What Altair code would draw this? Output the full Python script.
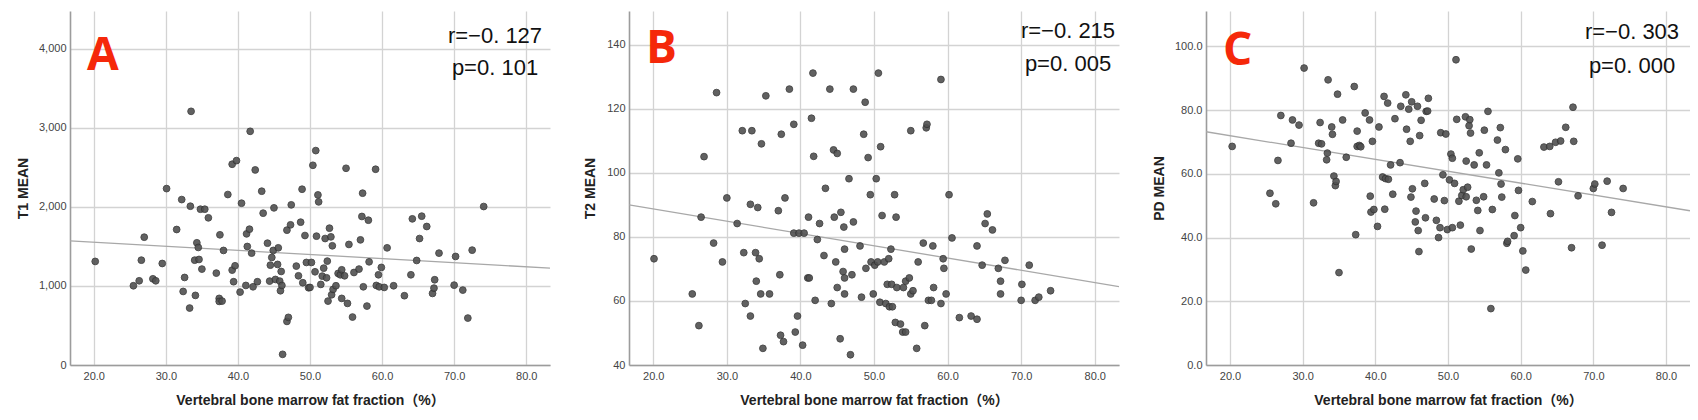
import altair as alt
import pandas as pd

# ---------------- data ----------------
A_X = [20.2,25.5,26.3,26.6,27.0,28.2,28.6,29.5,30.1,31.5,32.2,32.4,32.6,33.3,33.4,33.5,34.0,34.1,34.3,34.5,
       34.6,34.8,35.0,35.4,35.9,37.0,37.4,37.4,37.5,37.8,38.0,38.6,39.2,39.2,39.4,39.6,39.8,40.3,40.5,41.1,
       41.2,41.3,41.6,41.7,41.9,42.1,42.4,42.7,43.3,43.5,44.1,44.4,44.5,44.7,44.9,45.0,45.2,45.5,45.6,45.8,
       45.9,46.0,46.1,46.2,46.8,46.8,47.0,47.3,47.4,48.1,48.4,48.7,48.9,49.0,49.3,49.5,49.8,50.0,50.2,50.4,
       50.7,50.8,50.9,51.1,51.2,51.5,51.7,51.9,52.1,52.3,52.4,52.5,52.7,52.9,53.0,53.1,53.2,53.6,53.9,54.2,
       54.4,54.4,54.8,55.0,55.2,55.4,55.9,56.1,56.8,57.0,57.2,57.3,57.4,57.9,58.1,58.2,59.1,59.2,59.5,59.6,
       59.9,60.3,60.7,61.6,63.1,64.0,64.2,64.8,65.2,65.5,66.2,67.0,67.2,67.3,67.9,70.0,70.2,71.2,71.9,72.5,74.1]
A_Y = [1311,1003,1066,1327,1618,1091,1066,1285,2233,1715,2094,931,1108,721,2010,3211,1327,881,1547,1488,
       1336,1972,1214,1972,1863,1163,843,805,1648,809,1450,2158,1201,2541,1054,1256,2587,923,2048,1007,
       1660,1500,1719,2958,1416,990,2469,1054,2200,1922,1542,1062,1264,1361,1450,1989,1083,1273,1483,1062,
       940,1184,1007,135,1707,552,603,1774,2027,1252,1129,1808,2225,1041,1639,1298,978,982,1298,2528,
       1180,2714,1631,2153,2065,1020,1125,1226,1601,1104,1315,809,1732,1622,889,1509,957,1003,1159,1142,
       1205,843,1129,2490,780,1526,607,1171,1214,1584,1880,2175,990,746,1833,1306,2478,1007,1142,990,
       1235,982,1483,1003,877,1142,1850,1323,1601,1884,1753,906,973,1079,1416,1011,1374,948,594,1454,2006]

B_X = [20.1,25.3,26.2,26.5,26.9,28.2,28.6,29.4,30.0,31.4,32.1,32.3,32.5,33.2,33.2,33.4,33.9,34.0,34.2,34.4,
       34.6,34.7,34.9,35.3,35.8,37.0,37.2,37.3,37.4,37.7,37.9,38.5,39.1,39.1,39.3,39.6,39.8,40.3,40.5,41.0,
       41.2,41.1,41.5,41.7,41.8,42.0,42.3,42.6,43.2,43.4,44.0,44.2,44.5,44.6,44.8,45.0,45.0,45.4,45.5,45.8,
       45.9,46.0,46.0,46.0,46.6,46.8,47.0,47.2,47.2,48.1,48.3,48.6,48.8,48.9,49.2,49.5,49.6,49.9,50.1,50.3,
       50.5,50.6,50.8,50.9,51.1,51.4,51.6,51.8,52.0,52.1,52.3,52.4,52.5,52.8,52.9,53.0,53.1,53.6,53.9,54.0,
       54.3,54.3,54.8,55.0,55.0,55.3,55.8,56.0,56.7,56.9,57.1,57.2,57.4,57.8,58.0,58.1,59.1,59.1,59.4,59.5,
       59.8,60.2,60.6,61.6,63.2,64.0,64.0,64.7,65.1,65.4,66.1,66.9,67.2,67.2,67.8,70.0,70.1,71.1,71.9,72.4,74.0]
B_Y = [73.2,62.2,52.3,86.2,105.1,78.1,125.1,72.2,92.2,84.2,113.2,75.1,59.2,90.2,55.3,113.2,75.1,66.2,89.2,73.2,
       62.2,109.1,45.2,124.1,62.2,88.2,68.2,49.3,112.1,47.3,92.2,126.2,115.2,81.2,50.3,55.3,81.2,46.2,81.2,67.2,
       67.2,86.2,117.1,131.2,105.2,60.2,79.2,84.2,74.2,95.2,126.2,59.2,107.2,86.2,72.2,106.1,64.2,48.2,87.7,69.2,
       83.1,76.2,67.2,62.2,98.2,43.2,68.2,84.7,126.2,77.2,61.2,112.1,122.1,70.2,104.8,93.2,72.2,62.2,71.2,98.2,
       72.2,131.2,59.6,108.2,86.7,72.2,59.2,65.2,73.2,58.2,76.2,65.2,58.2,93.2,53.3,86.2,64.2,52.8,50.3,64.2,
       50.3,66.2,67.2,113.2,62.2,63.2,45.2,72.2,78.1,52.3,114.1,115.2,60.2,60.2,77.2,64.2,59.2,129.2,73.2,70.2,
       62.2,93.2,79.7,54.8,55.3,54.3,77.2,71.2,84.2,87.2,82.2,70.2,62.2,66.2,72.7,60.2,65.2,71.2,60.2,61.2,63.2]

C_X = [20.3,25.5,26.3,26.6,27.0,28.4,28.6,29.5,30.2,31.5,32.2,32.4,32.6,33.4,33.3,33.5,34.0,34.1,34.3,34.5,
       34.6,34.8,35.0,35.5,36.0,37.1,37.3,37.5,37.5,37.8,38.0,38.6,39.2,39.3,39.4,39.6,39.8,40.3,40.5,41.0,
       41.2,41.3,41.4,41.7,41.8,42.1,42.4,42.7,43.4,43.5,44.2,44.3,44.6,44.8,44.9,45.0,45.1,45.6,45.5,45.8,
       45.9,46.0,46.1,46.3,46.8,46.9,47.0,47.2,47.3,48.1,48.4,48.7,48.9,49.0,49.3,49.5,49.7,49.9,50.2,50.4,
       50.6,50.6,50.9,51.1,51.2,51.5,51.7,51.9,52.1,52.4,52.5,52.5,52.7,52.9,53.0,53.1,53.2,53.6,53.9,54.1,
       54.3,54.4,54.9,55.0,55.3,55.5,55.9,56.1,56.8,57.0,57.3,57.2,57.4,57.9,58.1,58.2,59.1,59.2,59.6,59.7,
       60.0,60.3,60.7,61.6,63.2,64.0,64.1,64.8,65.5,65.2,66.2,67.0,67.2,67.3,67.9,70.0,70.2,71.2,71.9,72.5,74.1]
C_Y = [68.6,53.9,50.6,64.2,78.3,69.6,76.9,75.3,93.2,50.9,69.6,76.1,69.4,66.5,64.4,89.5,74.7,72.4,59.3,56.3,
       57.6,85.0,29.0,76.9,65.2,87.4,40.9,73.4,68.6,68.9,68.5,79.1,76.9,53.0,48.0,70.2,48.8,43.5,74.7,59.0,
       84.3,48.9,58.5,82.2,58.3,62.8,53.6,77.3,63.5,81.2,84.8,74.0,80.3,70.2,52.7,82.6,55.3,48.3,44.9,81.2,
       42.2,35.6,72.0,76.8,57.0,46.2,79.6,79.7,83.7,52.1,45.4,40.0,43.1,72.9,59.7,51.6,72.5,42.5,58.1,66.2,
       64.9,43.1,57.0,95.8,77.1,51.4,43.9,53.2,55.0,77.9,64.0,52.8,55.8,75.1,77.0,72.8,36.4,62.8,51.7,48.5,
       66.6,42.2,52.8,73.7,62.8,79.6,17.7,48.8,70.6,60.3,56.8,74.5,52.7,67.6,38.2,38.8,40.6,46.9,64.7,54.8,
       43.1,35.8,29.8,51.3,68.4,68.6,47.5,69.9,70.3,57.5,74.6,36.8,80.9,70.2,53.1,55.4,56.8,37.6,57.7,47.9,55.4]

# fit-line end points (left and right edge of the x range)
FIT_X = [16.7, 83.3]
A_FIT = [1572, 1226]
B_FIT = [90.0, 64.5]
C_FIT = [73.2, 48.4]

X_TICKS = [20, 30, 40, 50, 60, 70, 80]
A_TICKS = [0, 1000, 2000, 3000, 4000]
B_TICKS = [40, 60, 80, 100, 120, 140]
C_TICKS = [0, 20, 40, 60, 80, 100]

X_TITLE = "Vertebral bone marrow fat fraction（%）"

LABEL_FONT = "Liberation Sans, Arial, Noto Sans CJK SC"
PLOT_H = 354
XDOM = [16.7, 83.3]


def panel(xs, ys, fit, ydom, yticks, yfmt, ytitle, width, title_x,
          letter, letter_y, r_text, p_text, rp_x, r_y, p_y):
    df = pd.DataFrame({"x": xs, "y": ys})
    fdf = pd.DataFrame({"x": FIT_X, "y": fit})
    xenc = alt.X("x:Q", scale=alt.Scale(domain=XDOM, nice=False, zero=False),
                 axis=alt.Axis(values=X_TICKS, format=".1f", title=X_TITLE))
    yenc = alt.Y("y:Q", scale=alt.Scale(domain=ydom, nice=False, zero=False),
                 axis=alt.Axis(values=yticks, format=yfmt, title=ytitle,
                               titleX=title_x, titleBaseline="middle"))
    line = alt.Chart(fdf).mark_line(color="#a8a8a8", strokeWidth=1.3, clip=True).encode(x=xenc, y=yenc)
    pts = alt.Chart(df).mark_circle(size=46, color="#515151", opacity=0.9,
                                    stroke="#333333", strokeWidth=0.9).encode(x=xenc, y=yenc)
    lab = alt.Chart(pd.DataFrame({"t": [letter]})).mark_text(
        font="Open Sans", fontWeight="bold", fontSize=46, color="#f5280a",
        align="left", baseline="alphabetic").encode(
        text="t:N", x=alt.value(17), y=alt.value(letter_y))
    rt = alt.Chart(pd.DataFrame({"t": [r_text]})).mark_text(
        font=LABEL_FONT, fontSize=22, color="#111111", align="center",
        baseline="alphabetic").encode(text="t:N", x=alt.value(rp_x), y=alt.value(r_y))
    pt = alt.Chart(pd.DataFrame({"t": [p_text]})).mark_text(
        font=LABEL_FONT, fontSize=22, color="#111111", align="center",
        baseline="alphabetic").encode(text="t:N", x=alt.value(rp_x), y=alt.value(p_y))
    return alt.layer(line, pts, lab, rt, pt).properties(width=width, height=PLOT_H)


pa = panel(A_X, A_Y, A_FIT, [0, 4481], A_TICKS, ",d", "T1 MEAN", 480, -47,
           "A", 59, "r=−0. 127", "p=0. 101", 425, 32, 64)
pb = panel(B_X, B_Y, B_FIT, [40, 150.6], B_TICKS, "d", "T2 MEAN", 490, -39,
           "B", 52, "r=−0. 215", "p=0. 005", 439, 27, 60)
pc = panel(C_X, C_Y, C_FIT, [0, 111.1], C_TICKS, ".1f", "PD MEAN", 484, -47,
           "C", 54, "r=−0. 303", "p=0. 000", 426, 28, 62)

chart = alt.hconcat(pa, pb, pc, spacing=33).properties(
    padding={"left": 8, "top": 3, "right": 0, "bottom": 2},
    background="white",
).configure_view(stroke=None).configure_axis(
    grid=True, gridColor="#d3d3d3", gridWidth=1.3,
    domainColor="#9c9c9c", domainWidth=1.6,
    ticks=False, tickSize=0,
    labelFont=LABEL_FONT, labelFontSize=11, labelColor="#444444",
    titleFont=LABEL_FONT, titleFontSize=14, titleFontWeight="bold", titleColor="#222222",
).configure_axisX(labelPadding=5, titlePadding=12).configure_axisY(labelPadding=4)

chart.save("out.html", embed_options={"renderer": "svg", "actions": False})
